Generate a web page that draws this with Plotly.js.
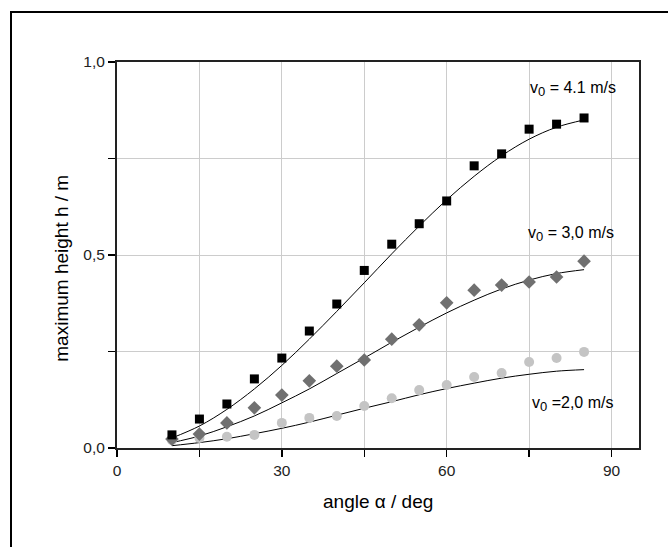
<!DOCTYPE html>
<html>
<head>
<meta charset="utf-8">
<script src="https://cdn.plot.ly/plotly-3.0.1.min.js"></script>
<style>
  html, body { margin: 0; padding: 0; background: #fff; }
  #wrap { position: relative; width: 668px; height: 547px; overflow: hidden; }
  #chart { position: absolute; left: 0; top: 0; width: 668px; height: 547px; }
  #frame { position: absolute; left: 10px; top: 11px; width: 700px; height: 600px;
           border-top: 2px solid #000; border-left: 2px solid #000; pointer-events: none; }
</style>
</head>
<body>
<div id="wrap">
  <div id="chart"></div>
  <div id="frame"></div>
</div>
<script>
// measured angles (deg)
const angles = [10, 15, 20, 25, 30, 35, 40, 45, 50, 55, 60, 65, 70, 75, 80, 85];
// measured maximum heights (m)
const h41 = [0.034, 0.075, 0.114, 0.179, 0.233, 0.303, 0.373, 0.460, 0.528, 0.581, 0.640, 0.731, 0.762, 0.826, 0.839, 0.855];
const h30 = [0.023, 0.036, 0.065, 0.104, 0.137, 0.174, 0.212, 0.228, 0.282, 0.319, 0.376, 0.409, 0.422, 0.430, 0.443, 0.484];
const h20 = [0.020, 0.026, 0.029, 0.034, 0.065, 0.078, 0.083, 0.109, 0.129, 0.150, 0.163, 0.184, 0.194, 0.223, 0.233, 0.249];
// fitted curves
const fitAngles = [10, 15, 20, 25, 30, 35, 40, 45, 50, 55, 60, 65, 70, 75, 80, 85];
const fit41 = [0.026, 0.057, 0.100, 0.153, 0.214, 0.282, 0.354, 0.428, 0.503, 0.575, 0.643, 0.704, 0.757, 0.800, 0.831, 0.850];
const fit30 = [0.014, 0.031, 0.055, 0.083, 0.117, 0.153, 0.193, 0.233, 0.274, 0.313, 0.350, 0.383, 0.412, 0.435, 0.452, 0.462];
const fit20 = [0.006, 0.014, 0.024, 0.037, 0.051, 0.067, 0.085, 0.103, 0.120, 0.138, 0.154, 0.168, 0.181, 0.191, 0.199, 0.203];
// axis ticks
const xTickVals = [0, 15, 30, 45, 60, 75, 90];
const xTickText = ['0', '', '30', '', '60', '', '90'];
const yTickVals = [0, 0.25, 0.5, 0.75, 1.0];
const yTickText = ['0,0', '', '0,5', '', '1,0'];
// labels
const SUB0 = 'v<sub><span style="font-size:13px">0</span></sub>';
const labels = [
  {text: SUB0 + ' = 4.1 m/s', x: 74.8, y: 0.930},
  {text: SUB0 + ' = 3,0 m/s', x: 74.4, y: 0.555},
  {text: SUB0 + ' =2,0 m/s', x: 75.2, y: 0.115}
];
const xTitle = 'angle α / deg';
const yTitle = 'maximum height h / m';

const FONT = 'Liberation Sans, Arial, sans-serif';

const traces = [
  {x: fitAngles, y: fit41, mode: 'lines', line: {color: '#000', width: 1, shape: 'spline'}},
  {x: fitAngles, y: fit30, mode: 'lines', line: {color: '#000', width: 1, shape: 'spline'}},
  {x: fitAngles, y: fit20, mode: 'lines', line: {color: '#000', width: 1, shape: 'spline'}},
  {x: angles, y: h20, mode: 'markers', marker: {symbol: 'circle', size: 10, color: '#c4c4c4'}},
  {x: angles, y: h30, mode: 'markers', marker: {symbol: 'diamond', size: 10.5, color: '#707070'}},
  {x: angles, y: h41, mode: 'markers', marker: {symbol: 'square', size: 9, color: '#000'}}
];

const annotations = labels.map(l => ({
  x: l.x, y: l.y, xref: 'x', yref: 'y', text: l.text, showarrow: false,
  xanchor: 'left', yanchor: 'middle', font: {family: FONT, size: 16, color: '#000'}
}));
annotations.push({
  x: 0.5, y: -0.138, xref: 'paper', yref: 'paper', text: xTitle, showarrow: false,
  xanchor: 'center', yanchor: 'middle', font: {family: FONT, size: 19, color: '#000'}
});
annotations.push({
  x: -0.1054, y: 0.467, xref: 'paper', yref: 'paper', text: yTitle, showarrow: false,
  textangle: -90, xanchor: 'center', yanchor: 'middle', font: {family: FONT, size: 19, color: '#000'}
});

const layout = {
  width: 668, height: 547,
  margin: {l: 117, r: 29, t: 62, b: 98.5, pad: 0},
  paper_bgcolor: '#fff', plot_bgcolor: '#fff',
  showlegend: false,
  font: {family: FONT, size: 15, color: '#000'},
  xaxis: {
    range: [0, 95], tickmode: 'array', tickvals: xTickVals, ticktext: xTickText,
    ticks: 'outside', ticklen: 7, tickwidth: 1.5, tickcolor: '#000',
    showline: true, linewidth: 2, linecolor: '#222', mirror: true,
    showgrid: true, gridcolor: '#cccccc', gridwidth: 1, zeroline: false,
    tickfont: {family: FONT, size: 15.5, color: '#222'}
  },
  yaxis: {
    range: [0, 1], tickmode: 'array', tickvals: yTickVals, ticktext: yTickText,
    ticks: 'outside', ticklen: 7, tickwidth: 1.5, tickcolor: '#000',
    showline: true, linewidth: 2, linecolor: '#222', mirror: true,
    showgrid: true, gridcolor: '#cccccc', gridwidth: 1, zeroline: false,
    tickfont: {family: FONT, size: 15.5, color: '#222'}
  },
  annotations: annotations
};

Plotly.newPlot('chart', traces, layout, {staticPlot: true, displayModeBar: false});
</script>
</body>
</html>
